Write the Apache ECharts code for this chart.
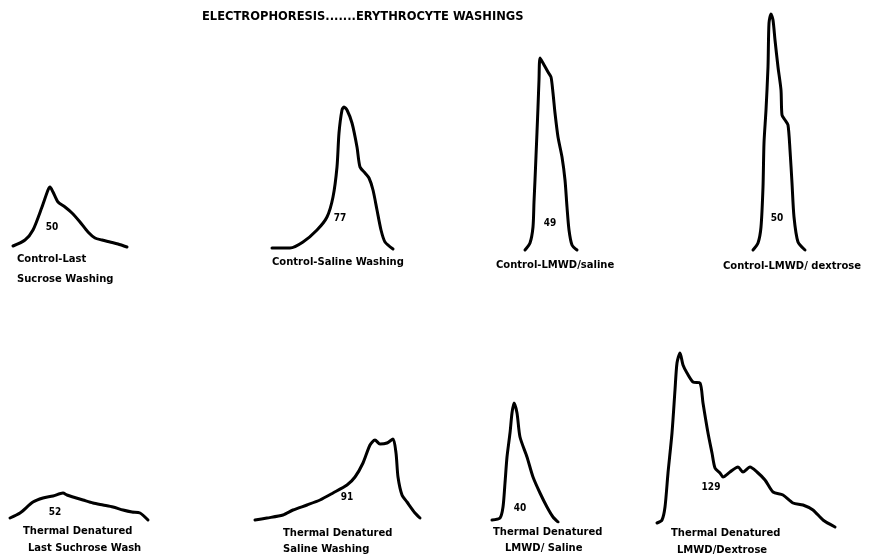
<!DOCTYPE html>
<html>
<head>
<meta charset="utf-8">
<script src="https://cdn.jsdelivr.net/npm/echarts@6/dist/echarts.min.js"></script>
<style>
  html, body { margin: 0; padding: 0; background: #ffffff; }
  #chart { width: 870px; height: 559px; }
</style>
</head>
<body>
<div id="chart"></div>
<script>
// Densitometer traces of erythrocyte washings (distance along strip vs. stain density)
const chartTitle = 'ELECTROPHORESIS.......ERYTHROCYTE WASHINGS';

const panelCaptions = [
  ['Control-Last', 'Sucrose Washing'],
  ['Control-Saline Washing'],
  ['Control-LMWD/saline'],
  ['Control-LMWD/ dextrose'],
  ['Thermal Denatured', 'Last Suchrose Wash'],
  ['Thermal Denatured', 'Saline Washing'],
  ['Thermal Denatured', 'LMWD/ Saline'],
  ['Thermal Denatured', 'LMWD/Dextrose']
];

const panelNumbers = [50, 77, 49, 50, 52, 91, 40, 129];

// Control - last sucrose washing
const trace1Dist = [3, 15, 23, 32, 38, 40, 43, 48, 55, 62, 70, 78, 85, 92, 100, 108, 117];
const trace1Dens = [4, 10, 20, 43, 60, 63, 58, 48, 43, 37, 28, 18, 12, 10, 8, 6, 3];

// Control - saline washing
const trace2Dist = [2, 20, 33, 47, 57, 63, 67, 69, 72, 74, 77, 82, 87, 90, 95, 99, 103, 107, 111, 115, 123];
const trace2Dens = [2, 2, 8, 20, 33, 53, 83, 117, 140, 143, 140, 127, 103, 83, 77, 72, 60, 40, 20, 8, 1];

// Control - LMWD/saline
const trace3Dist = [5, 10, 13, 14, 15, 16, 17, 18, 19, 20, 23, 28, 31, 33, 35, 38, 42, 45, 47, 49, 52, 57];
const trace3Dens = [2, 9, 25, 50, 72, 96, 120, 145, 172, 194, 189, 180, 175, 159, 139, 115, 95, 72, 45, 22, 7, 2];

// Control - LMWD/dextrose
const trace4Dist = [3, 8, 11, 13, 14, 16, 18, 19, 21, 23, 25, 28, 31, 32, 35, 38, 40, 42, 44, 48, 55];
const trace4Dens = [2, 9, 25, 65, 109, 142, 185, 229, 238, 232, 212, 185, 162, 137, 132, 127, 102, 69, 35, 10, 2];

// Thermal denatured - last sucrose wash
const trace5Dist = [5, 15, 28, 38, 48, 58, 62, 68, 78, 88, 98, 108, 118, 127, 135, 143];
const trace5Dens = [4, 9, 20, 24, 26, 29, 27, 25, 22, 19, 17, 15, 12, 10, 9, 2];

// Thermal denatured - saline washing
const trace6Dist = [5, 17, 33, 43, 57, 70, 83, 97, 105, 113, 120, 125, 130, 137, 143, 146, 148, 152, 157, 165, 170];
const trace6Dens = [2, 4, 7, 12, 17, 22, 29, 37, 45, 59, 77, 82, 78, 79, 83, 69, 45, 27, 20, 9, 4];

// Thermal denatured - LMWD/saline
const trace7Dist = [4, 12, 15, 17, 19, 22, 24, 26, 29, 32, 39, 45, 52, 59, 65, 70];
const trace7Dens = [2, 4, 15, 39, 65, 89, 109, 119, 109, 85, 65, 45, 29, 15, 5, 0];

// Thermal denatured - LMWD/dextrose
const trace8Dist = [5, 10, 13, 16, 20, 23, 25, 28, 31, 35, 41, 48, 51, 56, 60, 63, 68, 71, 78, 86, 91, 98, 105, 113, 121, 131, 141, 151, 161, 171, 183];
const trace8Dens = [5, 8, 21, 55, 95, 138, 165, 175, 163, 155, 146, 145, 125, 95, 75, 60, 55, 51, 56, 61, 56, 61, 56, 48, 36, 33, 25, 23, 18, 8, 1];

const traceDist = [trace1Dist, trace2Dist, trace3Dist, trace4Dist, trace5Dist, trace6Dist, trace7Dist, trace8Dist];
const traceDens = [trace1Dens, trace2Dens, trace3Dens, trace4Dens, trace5Dens, trace6Dens, trace7Dens, trace8Dens];

// Panel placement on the page: left edge, baseline, axis extents, number spot, caption lines
const panelLayout = [
  { left: 10,  base: 250, w: 125, h: 70,  num: [42, 23], cap: [[17, 259], [17, 279]] },
  { left: 270, base: 250, w: 130, h: 150, num: [70, 32], cap: [[272, 262]] },
  { left: 520, base: 252, w: 60,  h: 200, num: [30, 29], cap: [[496, 265]] },
  { left: 750, base: 252, w: 60,  h: 245, num: [27, 34], cap: [[723, 266]] },
  { left: 5,   base: 522, w: 150, h: 35,  num: [50, 10], cap: [[23, 531], [28, 548]] },
  { left: 250, base: 522, w: 175, h: 90,  num: [97, 25], cap: [[283, 533], [283, 549]] },
  { left: 488, base: 522, w: 75,  h: 125, num: [32, 14], cap: [[493, 532], [505, 548]] },
  { left: 652, base: 528, w: 190, h: 180, num: [59, 41], cap: [[671, 533], [677, 550]] }
];

const numFont = '"DejaVu Sans Condensed", "DejaVu Sans", sans-serif';
const textFont = '"DejaVu Sans", sans-serif';

const grids = [], xAxes = [], yAxes = [], series = [], graphics = [];

panelLayout.forEach(function (p, i) {
  grids.push({ left: p.left, top: p.base - p.h, width: p.w, height: p.h, containLabel: false });
  xAxes.push({ type: 'value', gridIndex: i, min: 0, max: p.w, show: false });
  yAxes.push({ type: 'value', gridIndex: i, min: 0, max: p.h, show: false });
  series.push({
    type: 'line',
    xAxisIndex: i,
    yAxisIndex: i,
    data: traceDist[i].map(function (d, k) { return [d, traceDens[i][k]]; }),
    showSymbol: false,
    smooth: 0.25,
    lineStyle: { color: '#000', width: 3, cap: 'round', join: 'round' },
    silent: true,
    animation: false,
    markPoint: {
      symbol: 'circle',
      symbolSize: 0,
      itemStyle: { color: 'rgba(0,0,0,0)' },
      label: {
        show: true,
        position: 'inside',
        formatter: '{c}',
        color: '#000',
        fontFamily: numFont,
        fontWeight: 'bold',
        fontSize: 10
      },
      data: [{ coord: p.num, value: panelNumbers[i] }]
    }
  });
  panelCaptions[i].forEach(function (line, j) {
    graphics.push({
      type: 'text',
      x: p.cap[j][0],
      y: p.cap[j][1],
      style: {
        text: line,
        fill: '#000',
        font: 'bold 10px ' + textFont,
        textVerticalAlign: 'middle'
      }
    });
  });
});

graphics.push({
  type: 'text',
  x: 202,
  y: 17,
  style: {
    text: chartTitle,
    fill: '#000',
    font: 'bold 11.5px ' + textFont,
    textVerticalAlign: 'middle'
  }
});

const chart = echarts.init(document.getElementById('chart'), null, { renderer: 'canvas' });
chart.setOption({
  backgroundColor: '#ffffff',
  animation: false,
  grid: grids,
  xAxis: xAxes,
  yAxis: yAxes,
  series: series,
  graphic: graphics
});
</script>
</body>
</html>
